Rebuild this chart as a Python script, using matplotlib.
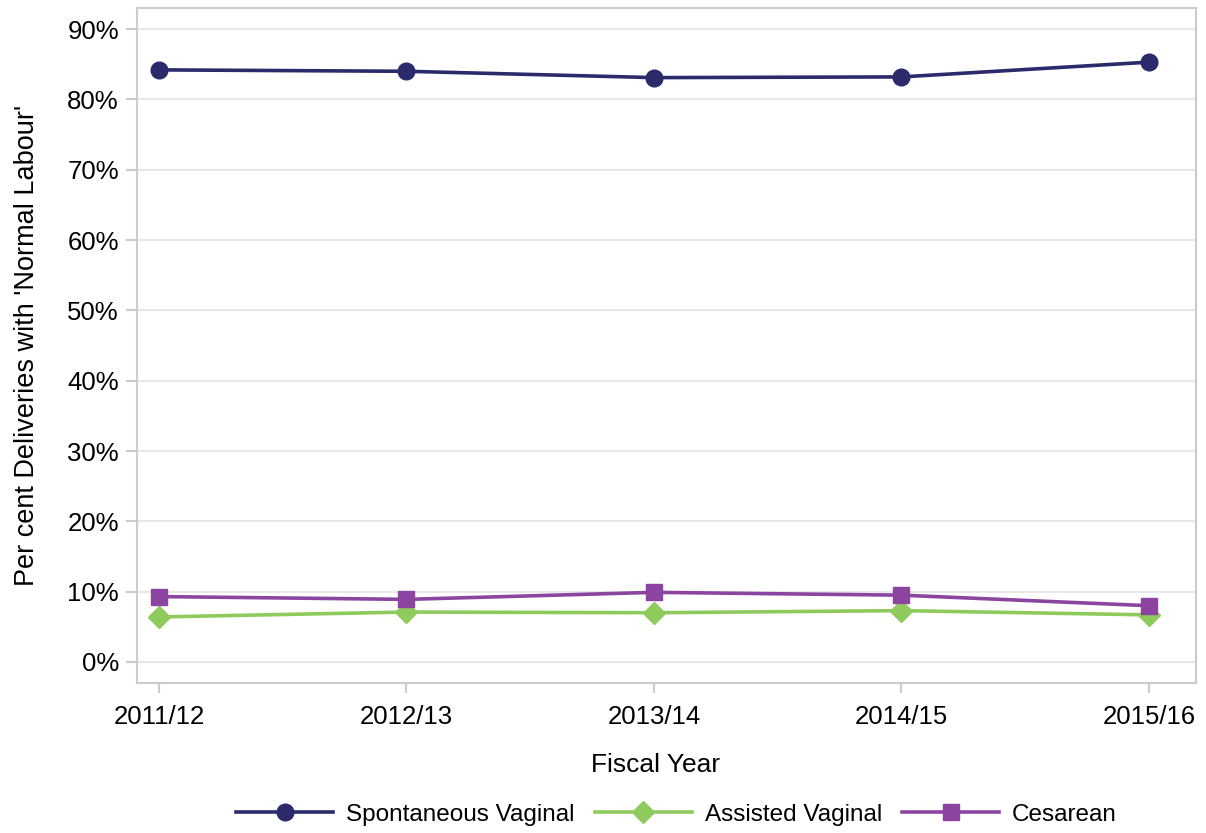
import matplotlib
matplotlib.use("Agg")
import matplotlib.pyplot as plt
from matplotlib.ticker import FuncFormatter

plt.rcParams['font.family'] = ['Liberation Sans', 'DejaVu Sans']

years = ["2011/12", "2012/13", "2013/14", "2014/15", "2015/16"]
spontaneous = [84.2, 84.0, 83.1, 83.2, 85.3]
assisted = [6.4, 7.1, 7.0, 7.3, 6.7]
cesarean = [9.3, 8.9, 9.9, 9.5, 8.0]
yticks = [0, 10, 20, 30, 40, 50, 60, 70, 80, 90]

fig = plt.figure(figsize=(12.06, 8.33), dpi=100)
ax = fig.add_axes([0.1136, 0.18, 0.878, 0.8104])

x = list(range(len(years)))
c1, c2, c3 = "#2b2a6b", "#8fcb5c", "#8b45a0"
ax.plot(x, spontaneous, color=c1, lw=2.6, marker='o', ms=12, label="Spontaneous Vaginal", zorder=3)
ax.plot(x, assisted, color=c2, lw=2.6, marker='D', ms=11.5, label="Assisted Vaginal", zorder=3)
ax.plot(x, cesarean, color=c3, lw=2.6, marker='s', ms=11.5, label="Cesarean", zorder=3)

ax.set_xlim(-0.089, 4.19)
ax.set_ylim(-3, 93)
ax.set_xticks(x)
ax.set_xticklabels(years)
ax.set_yticks(yticks)
ax.yaxis.set_major_formatter(FuncFormatter(lambda v, p: f"{v:.0f}%"))
ax.grid(axis='y', color='#e8e8e8', lw=1.5, zorder=0)
ax.set_axisbelow(True)
for s in ax.spines.values():
    s.set_color('#cccccc')
    s.set_linewidth(1.5)
ax.tick_params(axis='both', colors='#cccccc', labelcolor='black', labelsize=18.5, width=1.5)
ax.tick_params(axis='y', length=8, pad=5)
ax.tick_params(axis='x', length=7, pad=9)
ax.set_xlabel("Fiscal Year", fontsize=19, labelpad=17)
ax.set_ylabel("Per cent Deliveries with 'Normal Labour'", fontsize=19.5, labelpad=20)
ax.xaxis.label.set_x(0.49)

leg = fig.legend(loc='center', bbox_to_anchor=(0.561, 0.022), ncol=3, frameon=False,
                 fontsize=17.5, handlelength=4.0, columnspacing=0.82, handletextpad=0.53)
fig.savefig("out.png", dpi=100)
